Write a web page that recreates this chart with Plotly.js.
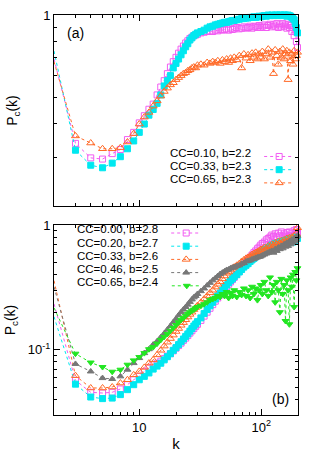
<!DOCTYPE html>
<html><head><meta charset="utf-8">
<script src="https://cdn.plot.ly/plotly-3.0.1.min.js"></script>
<style>html,body{margin:0;padding:0;background:#fff}#chart{width:319px;height:452px}</style>
</head><body><div id="chart"></div>
<script>
// degree k (shared by all series)
const k = [2,3,4,5,6,7,8,9,10,11,12,13,14,15,16,17,18,19,20,21,22,23,24,25,26,27,28,29,30,
  32,34,36,38,40,42,44,46,48,50,52,54,56,58,60,
  63,66,69,72,75,78,81,84,87,90,93,96,99,
  102,106,110,114,118,122,126,130,134,138,142,146,150,154,158,162,166,170,174,178,182,186,190,194,198];

// panel (a)
const a_cc010 = [0.69,0.339,0.30,0.297,0.311,0.322,0.35,0.372,0.403,0.428,0.452,0.472,0.51,0.545,0.575,0.61,0.645,0.675,0.70,0.725,0.75,0.77,0.79,0.805,0.82,0.83,0.84,0.845,0.85,
  0.86,0.865,0.87,0.875,0.87,0.88,0.875,0.885,0.88,0.885,0.89,0.88,0.895,0.885,0.89,
  0.90,0.89,0.895,0.905,0.895,0.90,0.91,0.895,0.905,0.91,0.90,0.915,0.90,
  0.91,0.92,0.90,0.915,0.925,0.905,0.92,0.91,0.93,0.90,0.92,0.905,0.93,0.91,0.92,0.895,0.925,0.90,0.915,0.87,0.90,0.84,0.88,0.80,0.76];
const a_cc033 = [0.738,0.32,0.282,0.276,0.287,0.303,0.324,0.346,0.372,0.399,0.43,0.451,0.475,0.51,0.55,0.575,0.60,0.64,0.665,0.69,0.715,0.74,0.765,0.785,0.81,0.825,0.84,0.85,0.86,
  0.87,0.88,0.895,0.905,0.91,0.92,0.925,0.93,0.935,0.94,0.94,0.945,0.95,0.955,0.955,
  0.96,0.965,0.97,0.97,0.975,0.975,0.98,0.98,0.985,0.98,0.985,0.99,0.985,
  0.99,0.995,0.99,1.0,0.995,1.0,0.995,1.0,1.0,0.995,1.0,1.0,0.995,1.0,1.0,0.99,1.0,0.995,0.99,0.98,0.97,0.96,0.93,0.90,0.86];
const a_cc065 = [0.675,0.361,0.34,0.324,0.324,0.327,0.343,0.368,0.399,0.423,0.44,0.464,0.485,0.505,0.525,0.54,0.555,0.565,0.58,0.59,0.60,0.61,0.615,0.625,0.63,0.64,0.645,0.64,0.655,
  0.66,0.655,0.67,0.665,0.675,0.67,0.68,0.665,0.685,0.675,0.69,0.67,0.695,0.68,0.70,
  0.685,0.71,0.64,0.72,0.695,0.715,0.68,0.725,0.70,0.73,0.69,0.72,0.70,
  0.735,0.69,0.72,0.75,0.70,0.73,0.61,0.745,0.71,0.66,0.735,0.70,0.75,0.69,0.72,0.74,0.58,0.73,0.68,0.72,0.66,0.74,0.69,0.71,0.73];

// panel (b)
const b_cc000 = [0.233,0.0568,0.0456,0.045,0.0456,0.0485,0.0525,0.0575,0.0612,0.0671,0.0713,0.0759,0.078,0.081,0.085,0.089,0.093,0.098,0.103,0.108,0.113,0.119,0.124,0.130,0.136,0.142,0.148,0.154,0.160,
  0.172,0.186,0.20,0.215,0.23,0.245,0.26,0.275,0.29,0.305,0.32,0.335,0.35,0.365,0.38,
  0.40,0.425,0.45,0.475,0.50,0.525,0.55,0.575,0.60,0.62,0.645,0.665,0.69,
  0.71,0.73,0.76,0.78,0.80,0.83,0.81,0.85,0.80,0.86,0.82,0.88,0.81,0.85,0.83,0.87,0.80,0.88,0.82,0.86,0.81,0.9,0.84,0.92,0.87];
const b_cc020 = [0.184,0.053,0.0418,0.0406,0.041,0.0437,0.0479,0.0525,0.0575,0.0612,0.0652,0.070,0.074,0.078,0.083,0.088,0.093,0.099,0.104,0.11,0.116,0.122,0.128,0.134,0.141,0.148,0.155,0.161,0.168,
  0.18,0.195,0.21,0.225,0.24,0.255,0.27,0.285,0.30,0.315,0.33,0.345,0.36,0.37,0.385,
  0.40,0.42,0.44,0.46,0.475,0.49,0.51,0.525,0.54,0.555,0.57,0.585,0.60,
  0.61,0.63,0.64,0.66,0.67,0.69,0.68,0.71,0.70,0.72,0.71,0.74,0.72,0.75,0.73,0.76,0.72,0.77,0.74,0.78,0.73,0.79,0.75,0.80,0.78];
const b_cc033 = [0.358,0.062,0.0494,0.0494,0.0503,0.0541,0.0575,0.063,0.0671,0.0722,0.0782,0.083,0.091,0.099,0.107,0.115,0.123,0.131,0.14,0.148,0.157,0.165,0.174,0.183,0.192,0.20,0.21,0.218,0.226,
  0.24,0.255,0.27,0.286,0.30,0.318,0.335,0.35,0.37,0.39,0.41,0.42,0.435,0.45,0.46,
  0.475,0.49,0.51,0.525,0.54,0.55,0.565,0.58,0.59,0.60,0.61,0.62,0.635,
  0.64,0.66,0.65,0.68,0.67,0.70,0.68,0.72,0.70,0.74,0.71,0.75,0.72,0.76,0.73,0.78,0.74,0.79,0.75,0.80,0.76,0.82,0.77,0.85,0.95];
const b_cc046 = [0.319,0.077,0.067,0.0593,0.0583,0.0612,0.0692,0.0782,0.0858,0.094,0.101,0.11,0.117,0.126,0.135,0.145,0.155,0.166,0.177,0.189,0.20,0.21,0.22,0.23,0.242,0.253,0.263,0.27,0.28,
  0.295,0.31,0.328,0.344,0.36,0.375,0.39,0.405,0.415,0.425,0.436,0.44,0.45,0.455,0.46,
  0.47,0.475,0.49,0.495,0.51,0.515,0.52,0.53,0.535,0.545,0.55,0.555,0.56,
  0.57,0.58,0.59,0.60,0.61,0.62,0.60,0.64,0.62,0.66,0.64,0.68,0.65,0.70,0.67,0.72,0.68,0.74,0.70,0.76,0.72,0.78,0.74,0.80,0.82];
const b_cc065 = [0.217,0.093,0.079,0.0727,0.0667,0.0692,0.0759,0.0822,0.0874,0.094,0.101,0.105,0.112,0.12,0.127,0.134,0.142,0.15,0.158,0.166,0.174,0.18,0.187,0.194,0.20,0.205,0.21,0.215,0.22,
  0.225,0.232,0.24,0.25,0.255,0.26,0.27,0.265,0.28,0.27,0.29,0.26,0.285,0.27,0.30,
  0.265,0.29,0.275,0.31,0.27,0.30,0.26,0.32,0.28,0.31,0.25,0.30,0.33,
  0.28,0.35,0.30,0.27,0.38,0.29,0.33,0.24,0.35,0.30,0.20,0.37,0.28,0.33,0.17,0.36,0.30,0.16,0.38,0.32,0.40,0.22,0.42,0.36,0.45];

const labelsA = ['CC=0.10, b=2.2','CC=0.33, b=2.3','CC=0.65, b=2.3'];
const labelsB = ['CC=0.00, b=2.8','CC=0.20, b=2.7','CC=0.33, b=2.6','CC=0.46, b=2.5','CC=0.65, b=2.4'];
const xMajor = [10,100];
const xMajorText = ['10','10<sup>2</sup>'];
const xMinor = [3,4,5,6,7,8,9,20,30,40,50,60,70,80,90,200];
const yMinorA = [0.2,0.3,0.4,0.5,0.6,0.7,0.8,0.9];
const yMinorB = [0.04,0.05,0.06,0.07,0.08,0.09,0.2,0.3,0.4,0.5,0.6,0.7,0.8,0.9];

const FONT = 'Liberation Sans, Arial, Helvetica, sans-serif';
const MAG='#f25cf2', CYA='#00e8f0', ORA='#ff6a28', GRY='#777777', GRN='#22e622';

function tr(y, xa, ya, color, symbol, size, leg){
  return {x:k, y:y, xaxis:xa, yaxis:ya, type:'scatter', mode:'lines+markers', name:'',
    legend:leg, showlegend:true, cliponaxis:false,
    line:{color:color, width:1, dash:'dot'},
    marker:{color:color, symbol:symbol, size:size, line:{color:color, width:1}}};
}
const data = [
  tr(a_cc010,'x','y',MAG,'square-open',6,'legend'),
  tr(a_cc033,'x','y',CYA,'square',6,'legend2'),
  tr(a_cc065,'x','y',ORA,'triangle-up-open',7,'legend3'),
  tr(b_cc000,'x2','y2',MAG,'square-open',6,'legend4'),
  tr(b_cc020,'x2','y2',CYA,'square',6,'legend5'),
  tr(b_cc033,'x2','y2',ORA,'triangle-up-open',7,'legend6'),
  tr(b_cc046,'x2','y2',GRY,'triangle-up',6,'legend7'),
  tr(b_cc065,'x2','y2',GRN,'triangle-down',6,'legend8')
];

function ax(extra){
  return Object.assign({type:'log', showline:true, linecolor:'#000', linewidth:1, mirror:'allticks',
    ticks:'inside', ticklen:6, tickwidth:1, tickcolor:'#000', showgrid:false, zeroline:false,
    tickfont:{family:FONT, size:13, color:'#000'}}, extra);
}
const xr = [Math.log10(2), Math.log10(200)];
const layout = {
  width:319, height:452, margin:{l:54, r:21, t:15, b:37},
  paper_bgcolor:'#fff', plot_bgcolor:'#fff', font:{family:FONT, color:'#000', size:12},
  xaxis: ax({anchor:'y', domain:[0,1], range:xr, tickmode:'array', tickvals:xMajor, ticktext:xMajorText, showticklabels:false,
    minor:{tickvals:xMinor, ticks:'inside', ticklen:3, tickcolor:'#000'}}),
  xaxis2: ax({anchor:'y2', domain:[0,1], range:xr, tickmode:'array', tickvals:xMajor, ticktext:xMajorText,
    minor:{tickvals:xMinor, ticks:'inside', ticklen:3, tickcolor:'#000'},
    title:{text:'k', font:{family:FONT, size:15}, standoff:4}}),
  yaxis: ax({anchor:'x', domain:[0.5225,1], range:[Math.log10(0.2),0], tickmode:'array', tickvals:[1], ticktext:['1'],
    minor:{tickvals:yMinorA, ticks:'inside', ticklen:3, tickcolor:'#000'},
    title:{text:'P<sub>c</sub>(k)', font:{family:FONT, size:14}, standoff:22}}),
  yaxis2: ax({anchor:'x2', domain:[0,0.475], range:[Math.log10(0.03),0], tickmode:'array', tickvals:[0.1,1], ticktext:['10<sup>-1</sup>','1'],
    minor:{tickvals:yMinorB, ticks:'inside', ticklen:3, tickcolor:'#000'},
    title:{text:'P<sub>c</sub>(k)', font:{family:FONT, size:14}, standoff:8}}),
  annotations:[
    {xref:'paper', yref:'paper', x:0.045, y:0.955, xanchor:'left', yanchor:'middle', text:'(a)', showarrow:false, font:{size:14}},
    {xref:'paper', yref:'paper', x:0.97, y:0.04, xanchor:'right', yanchor:'middle', text:'(b)', showarrow:false, font:{size:14}}
  ]
};
// one legend per series: label text (title, left) followed by the line/marker sample
const legNames = ['legend','legend2','legend3','legend4','legend5','legend6','legend7','legend8'];
const legText = labelsA.concat(labelsB);
const legX = [0.467,0.467,0.467,0.086,0.086,0.086,0.086,0.086];
const legY = [0.6463,0.6133,0.5803,0.455,0.422,0.389,0.356,0.323];
legNames.forEach((n,i)=>{
  layout[n] = {x:legX[i], y:legY[i], xref:'paper', yref:'paper', xanchor:'left', yanchor:'middle',
    bgcolor:'rgba(0,0,0,0)', borderwidth:0, font:{size:11.5},
    title:{text:legText[i], side:'left', font:{size:11.5}}};
});
Plotly.newPlot('chart', data, layout, {staticPlot:true});
</script>
</body></html>
